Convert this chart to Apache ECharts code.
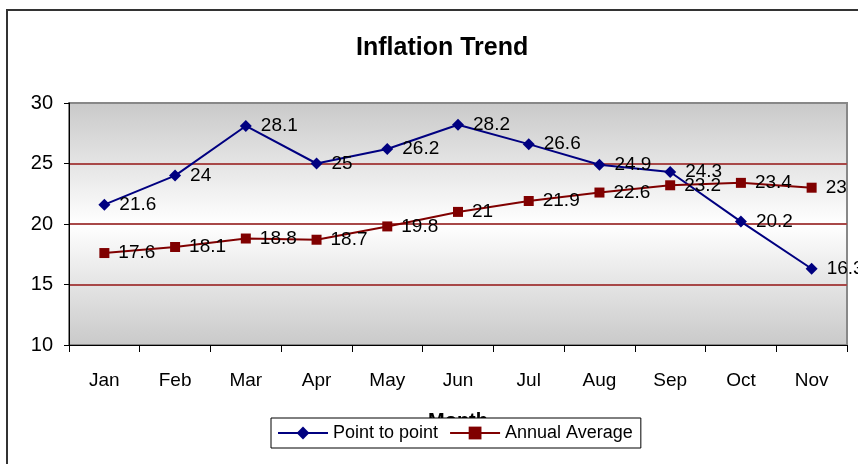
<!DOCTYPE html>
<html>
<head>
<meta charset="utf-8">
<script src="https://cdn.jsdelivr.net/npm/echarts@6/dist/echarts.min.js"></script>
<style>
html,body{margin:0;padding:0;background:#fff;}
#chart{width:858px;height:464px;}
</style>
</head>
<body>
<div id="chart"></div>
<script>
const categories = ['Jan','Feb','Mar','Apr','May','Jun','Jul','Aug','Sep','Oct','Nov'];
const pointToPoint = [21.6, 24, 28.1, 25, 26.2, 28.2, 26.6, 24.9, 24.3, 20.2, 16.3];
const annualAverage = [17.6, 18.1, 18.8, 18.7, 19.8, 21, 21.9, 22.6, 23.2, 23.4, 23];
const seriesNames = ['Point to point', 'Annual Average'];
const yMin = 10, yMax = 30, yStep = 5;

const FONT = '"Liberation Sans", Arial, sans-serif';
const chart = echarts.init(document.getElementById('chart'), null, {renderer: 'canvas'});

const labelCfg = {
  show: true,
  position: 'right',
  distance: 9,
  color: '#000',
  fontFamily: FONT,
  fontSize: 19
};

chart.setOption({
  animation: false,
  backgroundColor: '#fff',
  title: {
    text: 'Inflation Trend',
    left: 351,
    top: 31,
    textStyle: {fontFamily: FONT, fontWeight: 'bold', fontSize: 25, color: '#000'}
  },
  graphic: [{
    type: 'rect',
    shape: {x: 7, y: 10, width: 900, height: 500},
    style: {fill: 'none', stroke: '#333', lineWidth: 2},
    z: 100
  }],
  legend: {
    left: 271,
    top: 418,
    data: seriesNames,
    backgroundColor: '#fff',
    borderColor: '#000',
    borderWidth: 1,
    borderRadius: 0,
    padding: [6, 8, 6, 6],
    itemWidth: 50,
    itemHeight: 16,
    itemGap: 11,
    textStyle: {fontFamily: FONT, fontSize: 18, color: '#000'},
    z: 10
  },
  grid: {
    left: 69, top: 103, right: 11, bottom: 119,
    show: true,
    borderColor: '#888',
    borderWidth: 2,
    backgroundColor: {
      type: 'linear', x: 0, y: 0, x2: 0, y2: 1,
      colorStops: [
        {offset: 0, color: '#c9c9c9'},
        {offset: 0.5, color: '#ffffff'},
        {offset: 1, color: '#c9c9c9'}
      ]
    }
  },
  xAxis: {
    type: 'category',
    data: categories,
    boundaryGap: true,
    name: 'Month',
    nameLocation: 'middle',
    nameGap: 66,
    nameTextStyle: {fontFamily: FONT, fontWeight: 'bold', fontSize: 20, color: '#000'},
    axisLine: {show: true, lineStyle: {color: '#000', width: 1}},
    axisTick: {show: true, length: 7, alignWithLabel: false, lineStyle: {color: '#000'}},
    axisLabel: {fontFamily: FONT, fontSize: 19, color: '#000', margin: 26}
  },
  yAxis: {
    type: 'value',
    min: yMin, max: yMax, interval: yStep,
    axisLine: {show: true, lineStyle: {color: '#000', width: 1}},
    axisTick: {show: true, length: 5, lineStyle: {color: '#000'}},
    axisLabel: {fontFamily: FONT, fontSize: 20, color: '#000', margin: 16},
    splitLine: {show: true, showMinLine: false, showMaxLine: false, lineStyle: {color: '#a84848', width: 2}}
  },
  series: [
    {
      name: seriesNames[0],
      type: 'line',
      data: pointToPoint,
      symbol: 'diamond',
      symbolSize: 12,
      color: '#000080',
      lineStyle: {color: '#000080', width: 2},
      itemStyle: {color: '#000080'},
      label: labelCfg
    },
    {
      name: seriesNames[1],
      type: 'line',
      data: annualAverage,
      symbol: 'rect',
      symbolSize: 10,
      color: '#800000',
      lineStyle: {color: '#800000', width: 2},
      itemStyle: {color: '#800000'},
      label: labelCfg
    }
  ]
});
</script>
</body>
</html>
